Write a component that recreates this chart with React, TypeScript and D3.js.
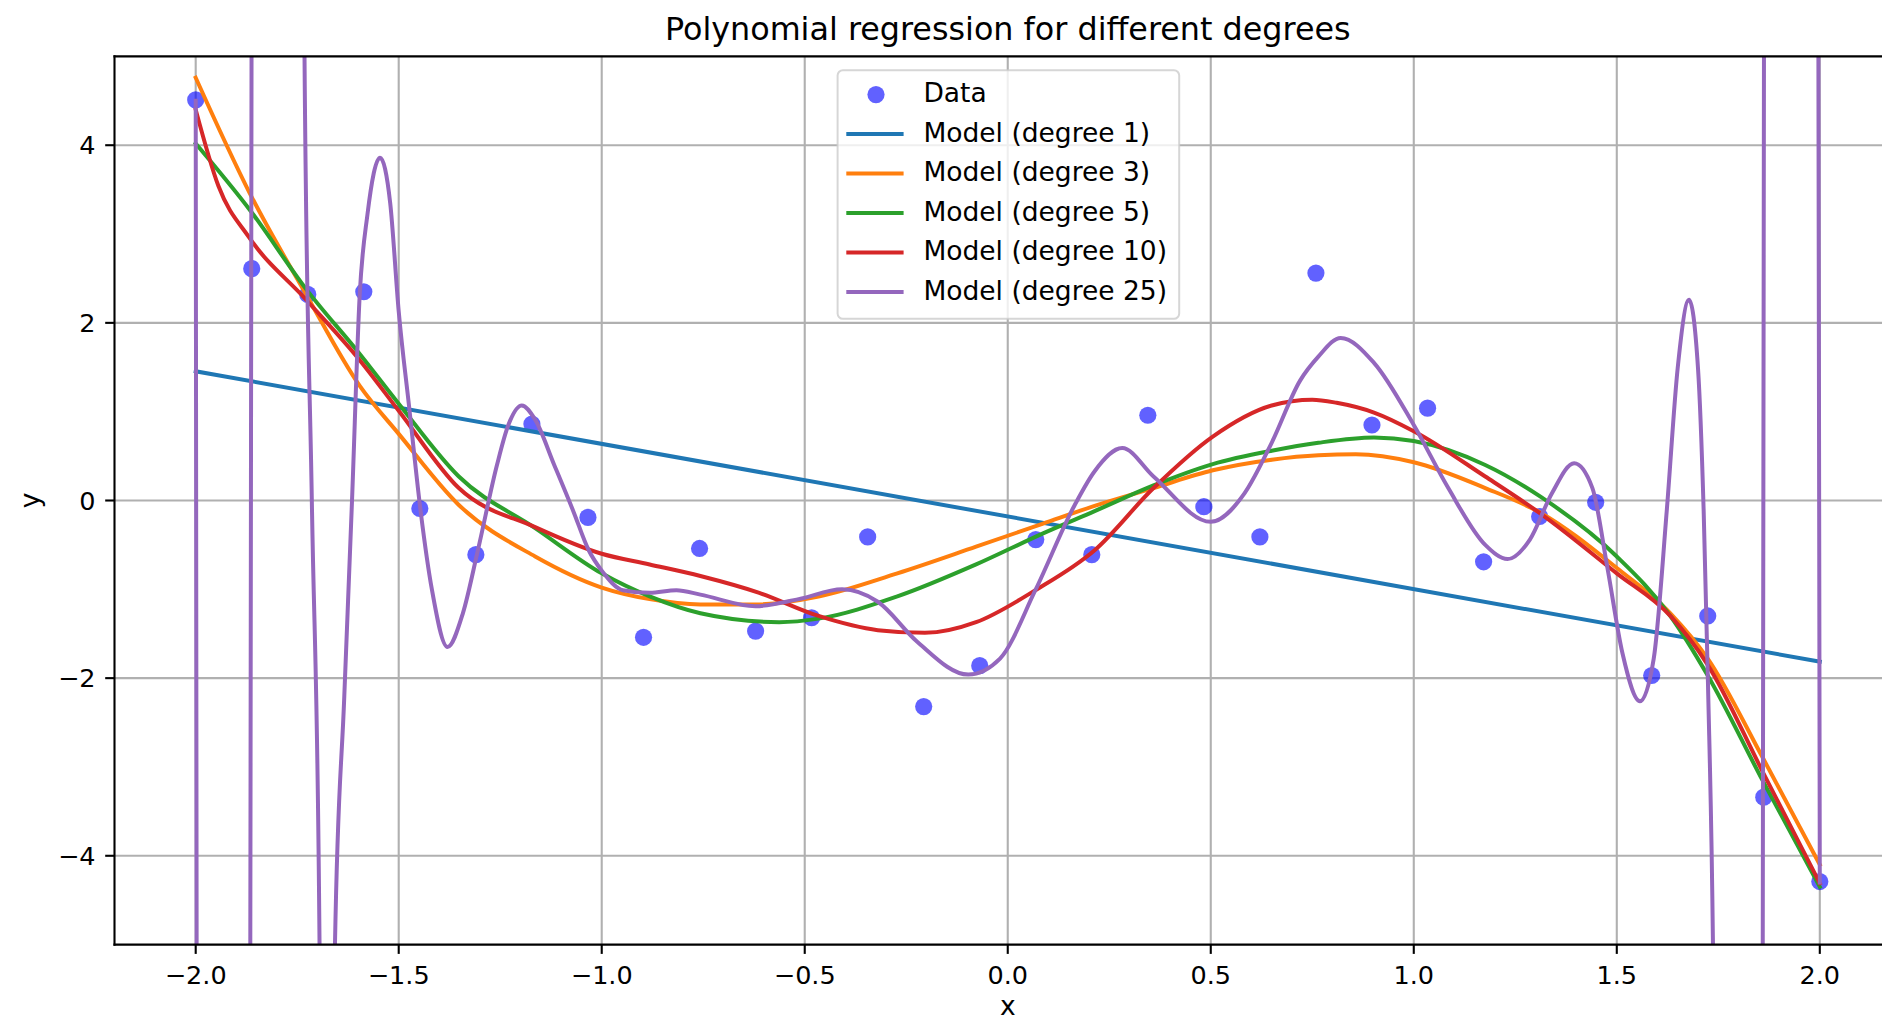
import React from 'react';
import * as d3 from 'd3';

const xTicks = [-2, -1.5, -1, -0.5, 0, 0.5, 1, 1.5, 2];
const yTicks = [-4, -2, 0, 2, 4];

const dataX = [-2.0, -1.862, -1.724, -1.586, -1.448, -1.31, -1.172, -1.034, -0.897, -0.759, -0.621, -0.483, -0.345, -0.207, -0.069, 0.069, 0.207, 0.345, 0.483, 0.621, 0.759, 0.897, 1.034, 1.172, 1.31, 1.448, 1.586, 1.724, 1.862, 2.0];
const dataY = [4.51, 2.61, 2.32, 2.35, -0.09, -0.61, 0.86, -0.19, -1.54, -0.54, -1.47, -1.32, -0.41, -2.32, -1.86, -0.44, -0.61, 0.96, -0.07, -0.41, 2.56, 0.85, 1.04, -0.69, -0.18, -0.02, -1.97, -1.3, -3.34, -4.29];

const degree1: [number, number][] = [[-2.0, 1.455], [2.0, -1.815]];

const degree3: [number, number][] = [
  [-2.0, 4.76], [-1.868, 3.47], [-1.728, 2.32], [-1.596, 1.29], [-1.5, 0.75], [-1.352, -0.05],
  [-1.164, -0.63], [-1.0, -0.98], [-0.882, -1.11], [-0.757, -1.17], [-0.621, -1.17], [-0.466, -1.08],
  [-0.272, -0.82], [-0.078, -0.52], [0.087, -0.26], [0.214, -0.06], [0.359, 0.14], [0.505, 0.34],
  [0.65, 0.46], [0.765, 0.51], [0.857, 0.52], [1.0, 0.43], [1.176, 0.14], [1.313, -0.14],
  [1.5, -0.76], [1.632, -1.27], [1.724, -1.78], [1.86, -2.9], [2.0, -4.1],
];

const degree5: [number, number][] = [
  [-2.0, 4.02], [-1.868, 3.28], [-1.728, 2.38], [-1.596, 1.65], [-1.5, 1.09], [-1.352, 0.27],
  [-1.164, -0.31], [-1.0, -0.82], [-0.882, -1.08], [-0.757, -1.27], [-0.563, -1.37], [-0.466, -1.33],
  [-0.272, -1.08], [-0.078, -0.72], [0.087, -0.37], [0.214, -0.12], [0.359, 0.17], [0.505, 0.41],
  [0.65, 0.56], [0.765, 0.65], [0.902, 0.71], [1.0, 0.67], [1.176, 0.4], [1.313, 0.04],
  [1.5, -0.63], [1.632, -1.3], [1.724, -1.97], [1.86, -3.16], [2.0, -4.35],
];

const degree10: [number, number][] = [
  [-2.0, 4.4], [-1.944, 3.54], [-1.868, 2.96], [-1.728, 2.26], [-1.596, 1.58], [-1.5, 1.01],
  [-1.352, 0.14], [-1.164, -0.3], [-1.0, -0.6], [-0.882, -0.72], [-0.757, -0.85], [-0.612, -1.04],
  [-0.466, -1.3], [-0.32, -1.46], [-0.204, -1.49], [-0.078, -1.37], [0.068, -1.01], [0.214, -0.56],
  [0.359, 0.14], [0.505, 0.72], [0.65, 1.07], [0.75, 1.135], [0.81, 1.1], [0.902, 0.99],
  [1.0, 0.78], [1.176, 0.27], [1.313, -0.15], [1.5, -0.82], [1.632, -1.3], [1.724, -1.85],
  [1.86, -3.06], [2.0, -4.31],
];

const degree25: [number, number][] = [
  [-2.0, 4.5], [-1.996, -12], [-1.93, -40], [-1.867, -10], [-1.861, 10], [-1.8, 40],
  [-1.737, 12], [-1.732, 5], [-1.714, 0], [-1.695, -5], [-1.69, -8], [-1.676, -10],
  [-1.662, -7], [-1.657, -5], [-1.634, -2.2], [-1.615, 0.0], [-1.596, 2.32], [-1.577, 3.22],
  [-1.546, 3.86], [-1.521, 3.35], [-1.5, 2.13], [-1.474, 1.04], [-1.446, -0.12], [-1.418, -1.01],
  [-1.38, -1.65], [-1.342, -1.27], [-1.305, -0.56], [-1.258, 0.4], [-1.23, 0.85], [-1.197, 1.07],
  [-1.164, 0.91], [-1.117, 0.4], [-1.07, -0.12], [-1.032, -0.56], [-1.0, -0.79], [-0.948, -1.01],
  [-0.882, -1.04], [-0.816, -1.01], [-0.757, -1.06], [-0.621, -1.19], [-0.515, -1.11], [-0.408, -1.0],
  [-0.32, -1.14], [-0.223, -1.59], [-0.097, -1.96], [-0.019, -1.78], [0.068, -1.01], [0.165, -0.05],
  [0.214, 0.33], [0.282, 0.59], [0.359, 0.27], [0.5, -0.24], [0.583, 0.08], [0.65, 0.65],
  [0.72, 1.35], [0.765, 1.62], [0.82, 1.83], [0.902, 1.55], [1.0, 0.85], [1.085, 0.14],
  [1.176, -0.5], [1.231, -0.66], [1.286, -0.44], [1.34, 0.08], [1.395, 0.42], [1.44, 0.14],
  [1.477, -0.76], [1.514, -1.72], [1.557, -2.26], [1.591, -1.78], [1.623, -0.12], [1.65, 1.49],
  [1.678, 2.26], [1.7, 1.49], [1.714, -0.12], [1.7245, -2.04], [1.737, -5.04], [1.745, -9],
  [1.8, -40], [1.858, -10], [1.864, 10], [1.93, 40], [1.994, 12], [2.0, -4.3],
];

const seriesLabels = ['Model (degree 1)', 'Model (degree 3)', 'Model (degree 5)', 'Model (degree 10)', 'Model (degree 25)'];
const seriesColors = ['#1f77b4', '#ff7f0e', '#2ca02c', '#d62728', '#9467bd'];
const seriesData = [degree1, degree3, degree5, degree10, degree25];

const W = 1882;
const H = 1021;
const AX_L = 114.5;
const AX_R = 1901;
const AX_T = 56.4;
const AX_B = 944.6;
const FONT = '"DejaVu Sans", sans-serif';

export default function App() {
  const x = d3.scaleLinear().domain([-2.2, 2.2]).range([AX_L, AX_R]);
  const y = d3.scaleLinear().domain([-5, 5]).range([AX_B, AX_T]);
  const line = d3
    .line<[number, number]>()
    .x((d) => x(d[0]))
    .y((d) => y(d[1]))
    .curve(d3.curveMonotoneX);
  const fx = d3.format('.1f');
  const fy = d3.format('d');

  const legX = 837.6;
  const legY = 70.2;
  const legW = 341.6;
  const legH = 248.6;
  const rowY = (i: number) => 94.6 + i * 39.5;

  return (
    <svg
      width={W}
      height={H}
      style={{ position: 'fixed', left: 0, top: 0, background: '#fff' }}
      fontFamily={FONT}
    >
      <defs>
        <clipPath id="axclip">
          <rect x={AX_L} y={AX_T} width={AX_R - AX_L} height={AX_B - AX_T} />
        </clipPath>
      </defs>
      <rect x={0} y={0} width={W} height={H} fill="#fff" />
      {/* grid */}
      <g stroke="#b0b0b0" strokeWidth={2.1}>
        {xTicks.map((t) => (
          <line key={'gx' + t} x1={x(t)} x2={x(t)} y1={AX_T} y2={AX_B} />
        ))}
        {yTicks.map((t) => (
          <line key={'gy' + t} x1={AX_L} x2={AX_R} y1={y(t)} y2={y(t)} />
        ))}
      </g>
      {/* scatter */}
      <g clipPath="url(#axclip)">
        {dataX.map((v, i) => (
          <circle key={'p' + i} cx={x(v)} cy={y(dataY[i])} r={8.6} fill="#0000ff" fillOpacity={0.62} />
        ))}
      </g>
      {/* model lines */}
      <g clipPath="url(#axclip)" fill="none" strokeWidth={4} strokeLinecap="square" strokeLinejoin="round">
        {seriesData.map((s, i) => (
          <path key={'s' + i} d={line(s) || ''} stroke={seriesColors[i]} />
        ))}
      </g>
      {/* spines */}
      <g stroke="#000" strokeWidth={2.1} fill="none">
        <line x1={AX_L} x2={AX_L} y1={AX_T} y2={AX_B} strokeLinecap="square" />
        <line x1={AX_L} x2={AX_R} y1={AX_B} y2={AX_B} strokeLinecap="square" />
        <line x1={AX_L} x2={AX_R} y1={AX_T} y2={AX_T} strokeLinecap="square" />
        <line x1={AX_R} x2={AX_R} y1={AX_T} y2={AX_B} />
      </g>
      {/* ticks */}
      <g stroke="#000" strokeWidth={2.1}>
        {xTicks.map((t) => (
          <line key={'tx' + t} x1={x(t)} x2={x(t)} y1={AX_B} y2={AX_B + 9.3} />
        ))}
        {yTicks.map((t) => (
          <line key={'ty' + t} x1={AX_L - 9.3} x2={AX_L} y1={y(t)} y2={y(t)} />
        ))}
      </g>
      <g fontSize={25.5} fill="#000">
        {xTicks.map((t) => (
          <text key={'lx' + t} x={x(t)} y={983.5} textAnchor="middle">
            {fx(t)}
          </text>
        ))}
        {yTicks.map((t) => (
          <text key={'ly' + t} x={95.5} y={y(t) + 9.2} textAnchor="end">
            {fy(t)}
          </text>
        ))}
      </g>
      {/* axis labels */}
      <text x={(AX_L + AX_R) / 2} y={1014.5} textAnchor="middle" fontSize={26.5} fill="#000">
        x
      </text>
      <text
        transform={`translate(38.8, ${(AX_T + AX_B) / 2}) rotate(-90)`}
        textAnchor="middle"
        fontSize={26.5}
        fill="#000"
      >
        y
      </text>
      {/* title */}
      <text x={(AX_L + AX_R) / 2} y={40.4} textAnchor="middle" fontSize={31.8} fill="#000">
        Polynomial regression for different degrees
      </text>
      {/* legend */}
      <g>
        <rect
          x={legX}
          y={legY}
          width={legW}
          height={legH}
          rx={5.3}
          ry={5.3}
          fill="#fff"
          fillOpacity={0.8}
          stroke="#cccccc"
          strokeOpacity={0.8}
          strokeWidth={2}
        />
        <circle cx={876} cy={rowY(0)} r={8.6} fill="#0000ff" fillOpacity={0.62} />
        <text x={923.4} y={rowY(0) + 7.7} fontSize={26.5} fill="#000">
          Data
        </text>
        {seriesLabels.map((lab, i) => (
          <g key={'lg' + i}>
            <line x1={846.3} x2={903.6} y1={rowY(i + 1)} y2={rowY(i + 1)} stroke={seriesColors[i]} strokeWidth={4} />
            <text x={923.4} y={rowY(i + 1) + 7.7} fontSize={26.5} fill="#000">
              {lab}
            </text>
          </g>
        ))}
      </g>
    </svg>
  );
}
